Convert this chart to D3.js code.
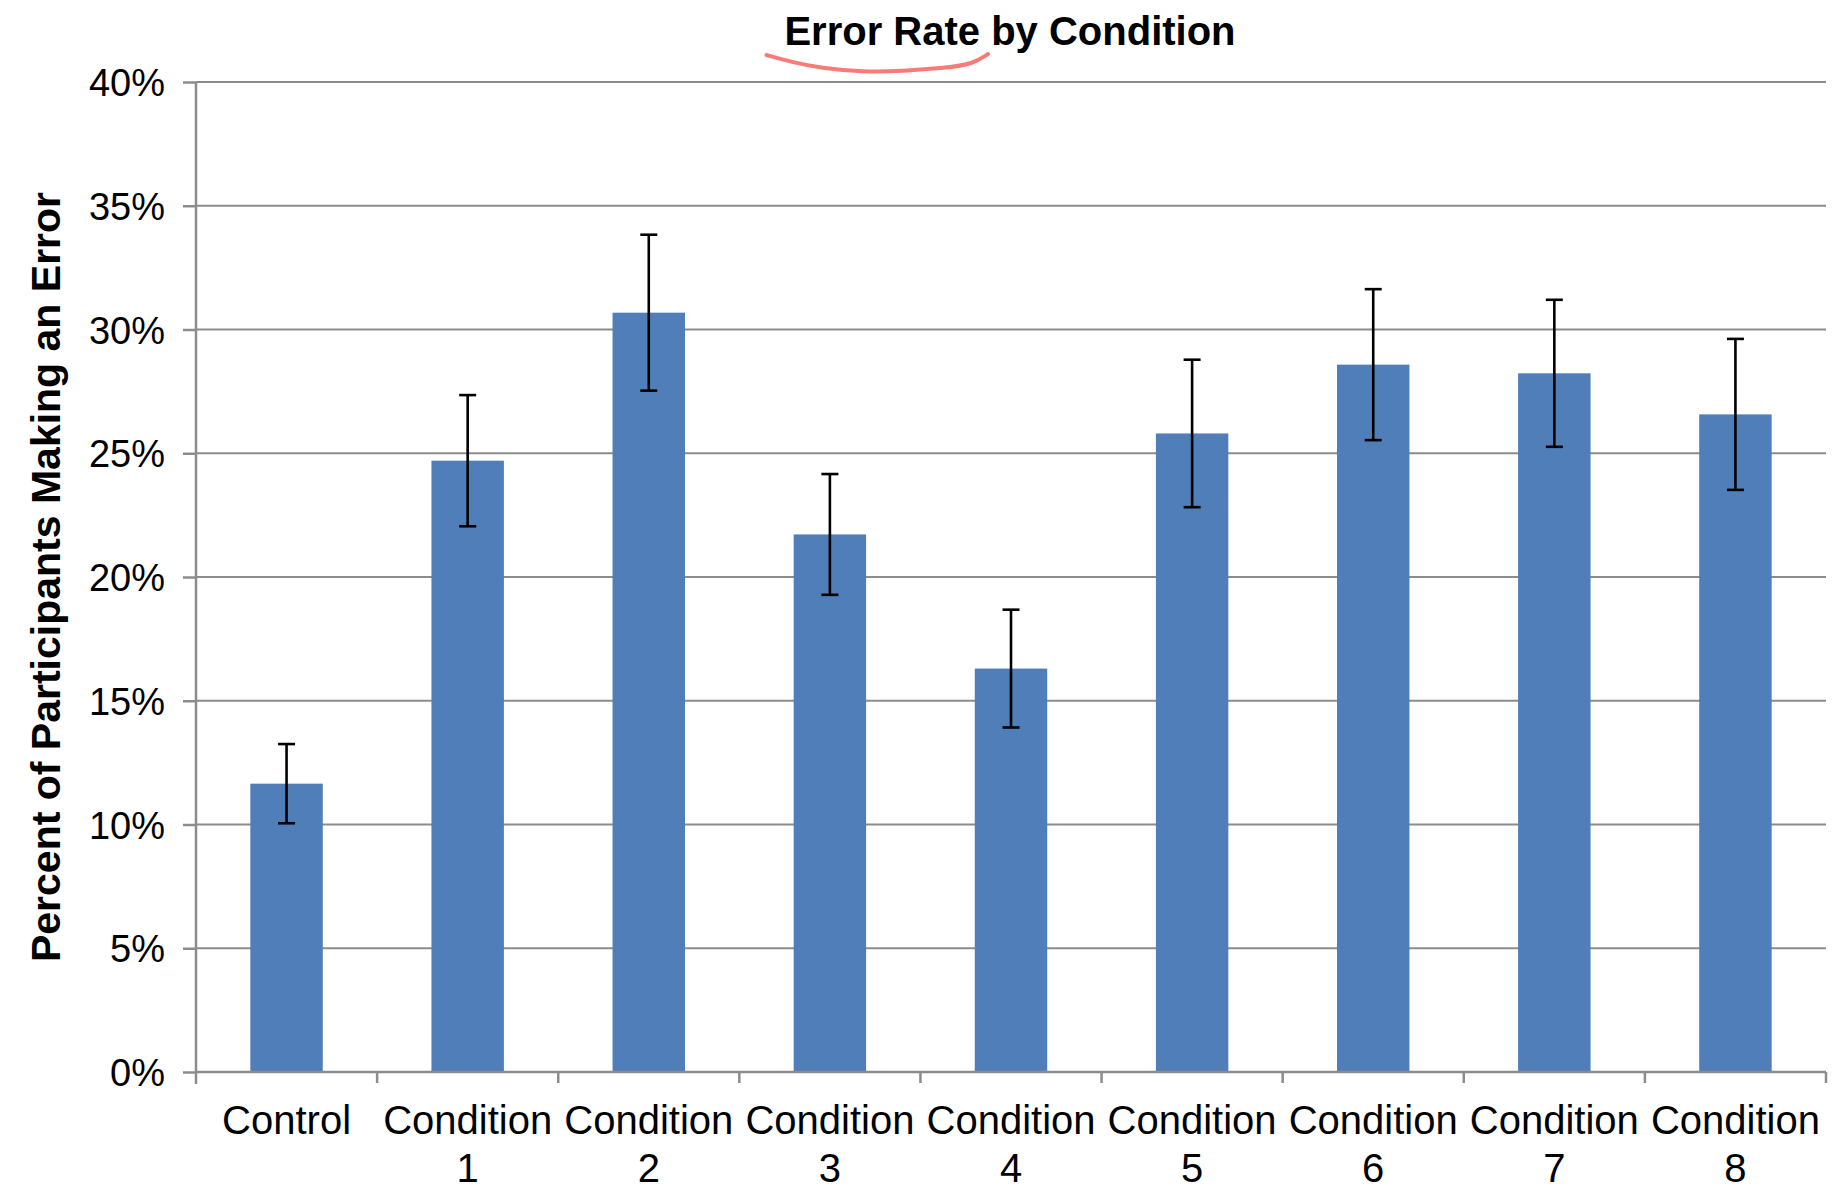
<!DOCTYPE html>
<html>
<head>
<meta charset="utf-8">
<title>Error Rate by Condition</title>
<script src="https://d3js.org/d3.v7.min.js"></script>
<style>
  body { margin: 0; background: #fff; }
  text { font-family: "Liberation Sans", Arial, sans-serif; fill: #000; }
</style>
</head>
<body>
<script>
// chart data
var categories = ["Control", "Condition 1", "Condition 2", "Condition 3", "Condition 4",
                  "Condition 5", "Condition 6", "Condition 7", "Condition 8"];
var errorRate = [11.65, 24.7, 30.68, 21.72, 16.3, 25.8, 28.58, 28.23, 26.57];
var errorMargin = [1.6, 2.65, 3.15, 2.44, 2.38, 2.98, 3.05, 2.97, 3.05];
var yTicks = [0, 5, 10, 15, 20, 25, 30, 35, 40];

var width = 1834, height = 1189;
var plotLeft = 196, plotRight = 1826, plotTop = 82, plotBottom = 1072;

var svg = d3.select("body").append("svg")
    .attr("width", width)
    .attr("height", height);

var x = d3.scaleBand()
    .domain(categories)
    .range([plotLeft, plotRight]);

var y = d3.scaleLinear()
    .domain([0, 40])
    .range([plotBottom, plotTop]);

// gridlines
svg.append("g")
    .selectAll("line")
    .data(yTicks.filter(function(t) { return t > 0; }))
    .enter().append("line")
    .attr("x1", plotLeft).attr("x2", plotRight)
    .attr("y1", function(d) { return y(d); })
    .attr("y2", function(d) { return y(d); })
    .attr("stroke", "#8c8c8c")
    .attr("stroke-width", 2);

// y axis
var yAxis = d3.axisLeft(y)
    .tickValues(yTicks)
    .tickSize(13)
    .tickPadding(18)
    .tickFormat(function(d) { return d + "%"; });

var gy = svg.append("g")
    .attr("transform", "translate(" + plotLeft + ",0)")
    .call(yAxis);
gy.select(".domain").attr("stroke", "#8c8c8c").attr("stroke-width", 2.5)
    .attr("d", "M0," + y(40) + "V" + (y(0) + 12));
gy.selectAll(".tick line").attr("stroke", "#8c8c8c").attr("stroke-width", 2.5);
gy.selectAll(".tick text")
    .style("font-size", "38px")
    .attr("dy", "0.36em");

// bars
var barW = x.bandwidth() * 0.4;
svg.append("g")
    .selectAll("rect")
    .data(categories)
    .enter().append("rect")
    .attr("x", function(d) { return x(d) + (x.bandwidth() - barW) / 2; })
    .attr("y", function(d, i) { return y(errorRate[i]); })
    .attr("width", barW)
    .attr("height", function(d, i) { return y(0) - y(errorRate[i]); })
    .attr("fill", "#4f7eb9");

// x axis line and category ticks (between categories)
svg.append("line")
    .attr("x1", plotLeft).attr("x2", plotRight)
    .attr("y1", y(0)).attr("y2", y(0))
    .attr("stroke", "#8c8c8c").attr("stroke-width", 2.5);

var bounds = categories.map(function(c) { return x(c); }).concat([plotRight]);
svg.append("g")
    .selectAll("line")
    .data(bounds.slice(1))
    .enter().append("line")
    .attr("x1", function(d) { return d; })
    .attr("x2", function(d) { return d; })
    .attr("y1", y(0))
    .attr("y2", y(0) + 11)
    .attr("stroke", "#8c8c8c")
    .attr("stroke-width", 2.5);

// category labels
var labels = svg.append("g")
    .selectAll("text")
    .data(categories)
    .enter().append("text")
    .attr("text-anchor", "middle")
    .style("font-size", "40px")
    .attr("transform", function(d) {
        return "translate(" + (x(d) + x.bandwidth() / 2) + "," + (y(0) + 62) + ")";
    });
labels.each(function(d) {
    var parts = d.split(" ");
    var t = d3.select(this);
    parts.forEach(function(p, i) {
        t.append("tspan").attr("x", 0).attr("dy", i === 0 ? 0 : 48).text(p);
    });
});

// error bars
var eb = svg.append("g")
    .attr("stroke", "#000")
    .attr("stroke-width", 2.6);
categories.forEach(function(c, i) {
    var cx = x(c) + x.bandwidth() / 2;
    var hi = y(errorRate[i] + errorMargin[i]);
    var lo = y(errorRate[i] - errorMargin[i]);
    eb.append("line").attr("x1", cx).attr("x2", cx).attr("y1", hi).attr("y2", lo);
    eb.append("line").attr("x1", cx - 8.5).attr("x2", cx + 8.5).attr("y1", hi).attr("y2", hi);
    eb.append("line").attr("x1", cx - 8.5).attr("x2", cx + 8.5).attr("y1", lo).attr("y2", lo);
});

// y axis title
svg.append("text")
    .attr("transform", "translate(60," + ((plotTop + plotBottom) / 2) + ") rotate(-90)")
    .attr("text-anchor", "middle")
    .style("font-size", "41px")
    .style("font-weight", "bold")
    .text("Percent of Participants Making an Error");

// chart title
var title = svg.append("text")
    .attr("x", 1010)
    .attr("y", 45)
    .attr("text-anchor", "middle")
    .style("font-size", "40px")
    .style("font-weight", "bold");
title.append("tspan").text("Error Rate");
title.append("tspan").text(" by Condition");

// red hand-drawn underline below "Error Rate"
var tb = title.node().getBBox();
var sub = title.node().getSubStringLength(0, 10);
var x0 = tb.x - 18, x1 = tb.x + sub + 8;
var squiggle = [
    [x0, 55], [x0 + 25, 62], [x0 + 54, 68], [x0 + 97, 72], [x0 + 136, 71],
    [x0 + 179, 68], [x1 - 15, 64], [x1, 54]
];
svg.append("path")
    .attr("d", d3.line().curve(d3.curveBasis)(squiggle))
    .attr("fill", "none")
    .attr("stroke", "#f77b78")
    .attr("stroke-width", 4)
    .attr("stroke-linecap", "round");
</script>
</body>
</html>
